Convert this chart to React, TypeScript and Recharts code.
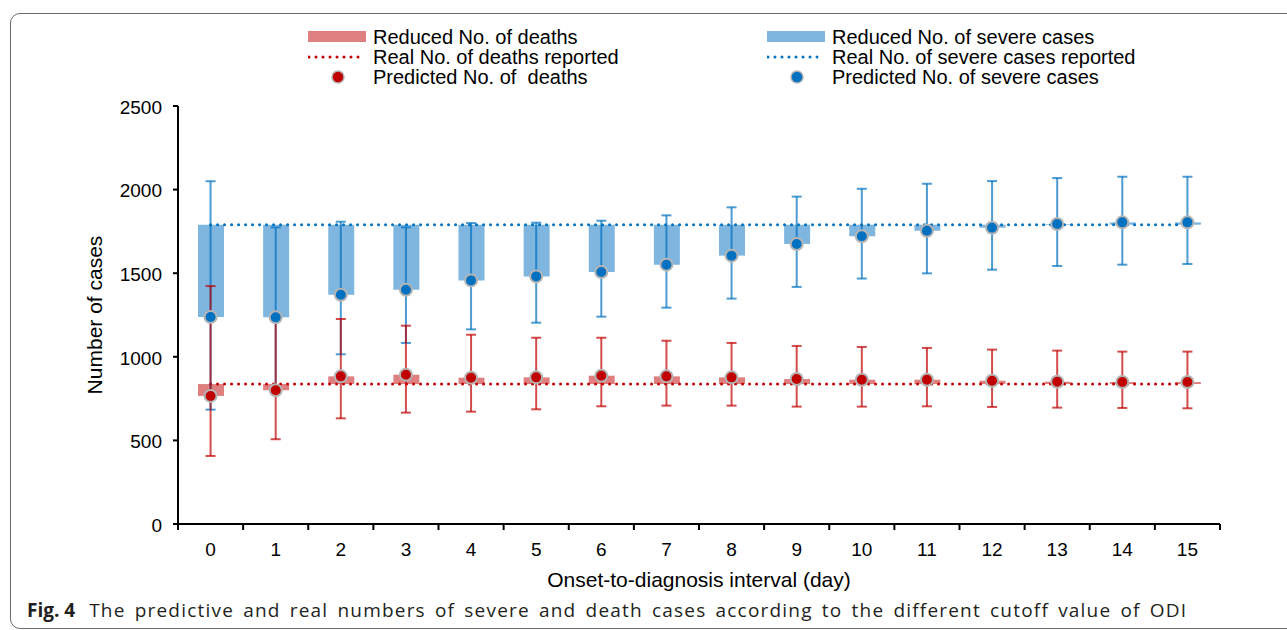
import React from "react"
import { ComposedChart, Bar, Line, XAxis, YAxis, ErrorBar } from "recharts"

// onset-to-diagnosis interval (day)
const days = [0, 1, 2, 3, 4, 5, 6, 7, 8, 9, 10, 11, 12, 13, 14, 15]

const predictedSevere = [1238, 1236, 1371, 1401, 1457, 1481, 1507, 1551, 1605, 1675, 1721, 1754, 1772, 1794, 1804, 1804]
const severeUpper = [2050, 1774, 1808, 1774, 1800, 1802, 1814, 1846, 1894, 1958, 2005, 2035, 2051, 2069, 2077, 2077]
const severeLower = [684, 805, 1015, 1083, 1164, 1204, 1240, 1294, 1348, 1418, 1468, 1499, 1521, 1543, 1551, 1555]

const predictedDeaths = [766, 800, 883, 893, 875, 877, 887, 883, 877, 867, 863, 863, 857, 851, 849, 849]
const deathsUpper = [1423, 1236, 1226, 1186, 1132, 1114, 1114, 1096, 1083, 1065, 1059, 1053, 1043, 1037, 1031, 1031]
const deathsLower = [407, 507, 632, 666, 672, 686, 704, 708, 708, 702, 702, 704, 700, 696, 694, 692]

const realSevere = 1790
const realDeaths = 837

const yTicks = [0, 500, 1000, 1500, 2000, 2500]

const BLUE = "#0070c0"
const RED = "#c00000"
const BLUE_BAR = "#7fb6df"
const RED_BAR = "#e07f7f"
const FONT = "'Liberation Sans', Arial, sans-serif"

const data = days.map((day, i) => ({
	day,
	severeBar: [Math.min(predictedSevere[i], realSevere), Math.max(predictedSevere[i], realSevere)],
	deathBar: [Math.min(predictedDeaths[i], realDeaths), Math.max(predictedDeaths[i], realDeaths)],
	realSevere,
	realDeaths,
	predSevere: predictedSevere[i],
	predDeaths: predictedDeaths[i],
	severeErr: [predictedSevere[i] - severeLower[i], severeUpper[i] - predictedSevere[i]],
	deathErr: [predictedDeaths[i] - deathsLower[i], deathsUpper[i] - predictedDeaths[i]],
}))

// ticks at category borders plus label positions at the centres
const xTicks = [...days.flatMap((d) => [d - 0.5, d]), days[days.length - 1] + 0.5]

function DayTick(props: any) {
	const { x, y, payload } = props
	const v = payload.value
	if (v % 1 !== 0) {
		return <line x1={x} x2={x} y1={y} y2={y + 6} stroke="#000" strokeWidth={2} />
	}
	return (
		<text x={x} y={y + 32} textAnchor="middle" fontSize={19} fill="#000" fontFamily={FONT}>
			{v}
		</text>
	)
}

const dotStyle = (fill: string) => ({ r: 6, fill, stroke: "#b4b4b4", strokeWidth: 2 })

function LegendRow({ icon, label }: { icon: React.ReactNode; label: string }) {
	return (
		<div style={{ display: "flex", alignItems: "center", height: 20 }}>
			<svg width={58} height={20} style={{ marginRight: 7 }}>
				{icon}
			</svg>
			<span style={{ whiteSpace: "pre" }}>{label}</span>
		</div>
	)
}

function Legend({ left, color, barColor, names }: { left: number; color: string; barColor: string; names: string[] }) {
	return (
		<div style={{ position: "absolute", left, top: 27, fontFamily: FONT, fontSize: 20, color: "#000", lineHeight: "20px" }}>
			<LegendRow icon={<rect x={0} y={4} width={58} height={11} fill={barColor} />} label={names[0]} />
			<LegendRow
				icon={<line x1={1} x2={57} y1={10} y2={10} stroke={color} strokeWidth={3} strokeDasharray="0 7" strokeLinecap="round" />}
				label={names[1]}
			/>
			<LegendRow icon={<circle cx={30} cy={10} r={6} fill={color} stroke="#b4b4b4" strokeWidth={1.5} />} label={names[2]} />
		</div>
	)
}

export default function App() {
	return (
		<div style={{ position: "fixed", left: 0, top: 0, width: 1287, height: 630, overflow: "hidden", background: "#fff" }}>
			<div
				style={{
					position: "absolute",
					left: 10,
					top: 13,
					width: 1400,
					height: 614,
					border: "1.5px solid #6b6b6b",
					borderRadius: 10,
				}}
			/>
			<Legend
				left={308}
				color={RED}
				barColor={RED_BAR}
				names={["Reduced No. of deaths", "Real No. of deaths reported", "Predicted No. of  deaths"]}
			/>
			<Legend
				left={767}
				color={BLUE}
				barColor={BLUE_BAR}
				names={["Reduced No. of severe cases", "Real No. of severe cases reported", "Predicted No. of severe cases"]}
			/>
			<div style={{ position: "absolute", left: 0, top: 0 }}>
				<ComposedChart
					width={1287}
					height={630}
					data={data}
					margin={{ top: 106, right: 67, left: 88, bottom: 42 }}
					barSize={26}
					barGap={-26}
				>
					<XAxis
						dataKey="day"
						type="number"
						domain={[-0.5, 15.5]}
						ticks={xTicks}
						interval={0}
						tick={<DayTick />}
						tickLine={false}
						tickSize={0}
						tickMargin={0}
						height={64}
						axisLine={{ stroke: "#000", strokeWidth: 2 }}
						label={{
							value: "Onset-to-diagnosis interval (day)",
							position: "insideBottom",
							offset: 1,
							fontSize: 21,
							fill: "#000",
							fontFamily: FONT,
						}}
					/>
					<YAxis
						width={90}
						domain={[0, 2500]}
						ticks={yTicks}
						interval={0}
						tickSize={5}
						tickMargin={11}
						tick={{ fontSize: 19, fill: "#000", fontFamily: FONT, dy: 1 }}
						tickLine={{ stroke: "#000", strokeWidth: 2 }}
						axisLine={{ stroke: "#000", strokeWidth: 2 }}
						label={{
							value: "Number of cases",
							angle: -90,
							position: "insideLeft",
							offset: 7,
							fontSize: 21,
							fill: "#000",
							fontFamily: FONT,
							style: { textAnchor: "middle" },
						}}
					/>
					<Bar dataKey="severeBar" fill={BLUE_BAR} isAnimationActive={false} />
					<Bar dataKey="deathBar" fill={RED_BAR} isAnimationActive={false} />
					<Line
						dataKey="realSevere"
						stroke={BLUE}
						strokeWidth={3}
						strokeDasharray="0 7"
						strokeLinecap="round"
						dot={false}
						activeDot={false}
						isAnimationActive={false}
					/>
					<Line
						dataKey="realDeaths"
						stroke={RED}
						strokeWidth={3}
						strokeDasharray="0 7"
						strokeLinecap="round"
						dot={false}
						activeDot={false}
						isAnimationActive={false}
					/>
					<Line dataKey="predSevere" stroke="none" dot={false} activeDot={false} isAnimationActive={false}>
						<ErrorBar dataKey="severeErr" direction="y" width={5} stroke={BLUE} strokeWidth={2} strokeOpacity={0.7} />
					</Line>
					<Line dataKey="predDeaths" stroke="none" dot={false} activeDot={false} isAnimationActive={false}>
						<ErrorBar dataKey="deathErr" direction="y" width={5} stroke={RED} strokeWidth={2} strokeOpacity={0.7} />
					</Line>
					<Line dataKey="predSevere" stroke="none" dot={dotStyle(BLUE)} activeDot={false} isAnimationActive={false} />
					<Line dataKey="predDeaths" stroke="none" dot={dotStyle(RED)} activeDot={false} isAnimationActive={false} />
				</ComposedChart>
			</div>
			<div
				style={{
					position: "absolute",
					left: 27,
					top: 597,
					fontFamily: "'Open Sans', 'Noto Sans', sans-serif",
					fontSize: 19,
					color: "#231f20",
					whiteSpace: "nowrap",
				}}
			>
				<b>Fig. 4</b>
				<span style={{ marginLeft: 14, letterSpacing: 1.2, wordSpacing: 3 }}>
					The predictive and real numbers of severe and death cases according to the different cutoff value of ODI
				</span>
			</div>
		</div>
	)
}
